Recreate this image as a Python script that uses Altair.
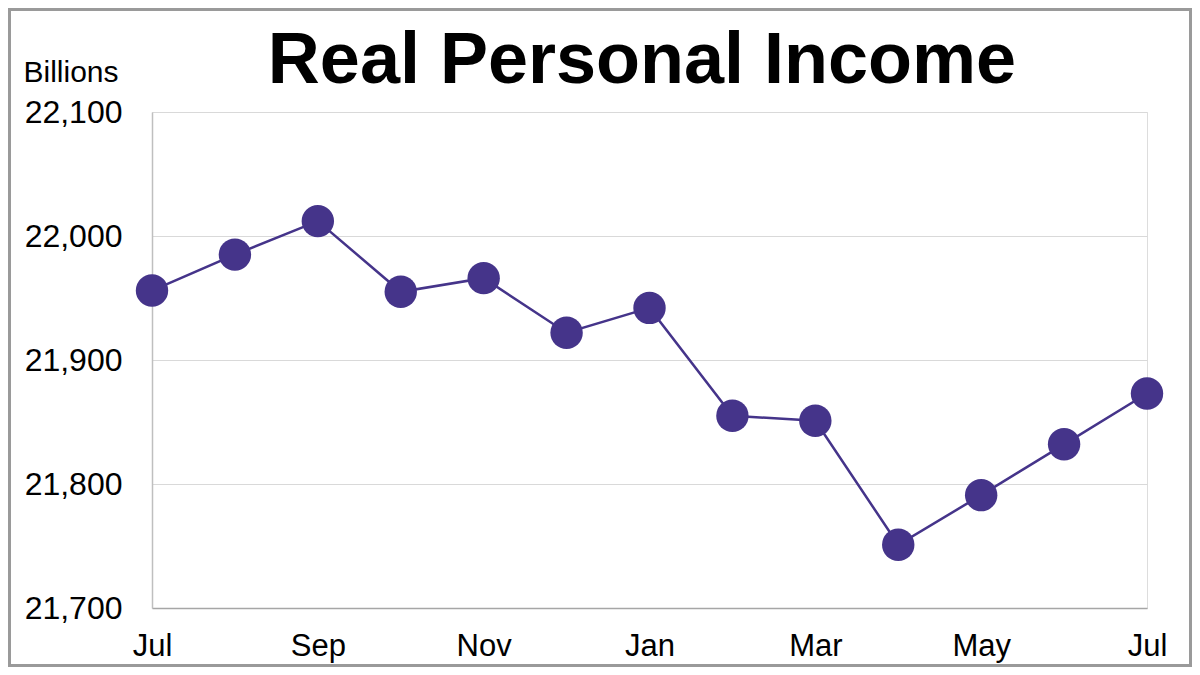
import altair as alt
import pandas as pd

months = ["Jul", "Aug", "Sep", "Oct", "Nov", "Dec", "Jan", "Feb", "Mar", "Apr", "May", "Jun", "Jul"]
income = [21956, 21985, 22012, 21955, 21966, 21922, 21942, 21855, 21851, 21751, 21791, 21832, 21873]
y_ticks = [21700, 21800, 21900, 22000, 22100]
title_text = "Real Personal Income"
unit_text = "Billions"

df = pd.DataFrame({"idx": list(range(len(months))), "month": months, "income": income})

label_expr = "[" + ",".join(f"'{m}'" for m in months) + "][datum.value]"
PURPLE = "#45348A"
FONT = "Liberation Sans"

W, H = 995, 496
PL, PT, PR, PB = 144, 104, 45, 59

x = alt.X("idx:Q",
          scale=alt.Scale(domain=[0, len(months) - 1], nice=False, zero=False),
          axis=alt.Axis(values=list(range(0, len(months), 2)), labelExpr=label_expr,
                        title=None, grid=False, ticks=False, labelFlush=False,
                        labelFontSize=31, labelFont=FONT, labelColor="black",
                        labelPadding=23, domainColor="#a6a6a6", domainWidth=1.5))
y = alt.Y("income:Q",
          scale=alt.Scale(domain=[y_ticks[0], y_ticks[-1]], nice=False, zero=False),
          axis=alt.Axis(values=y_ticks, format=",.0f",
                        title=unit_text, titleAngle=0, titleAlign="left",
                        titleBaseline="alphabetic", titleX=-129, titleY=-31,
                        titleFontSize=30, titleFontWeight="normal", titleFont=FONT,
                        titleColor="black",
                        grid=True, gridColor="#d9d9d9", gridWidth=1,
                        ticks=False, labelFontSize=32, labelFont=FONT,
                        labelColor="black", labelPadding=30,
                        domainColor="#bfbfbf", domainWidth=1.5))

line = alt.Chart(df).mark_line(color=PURPLE, strokeWidth=2.5).encode(x=x, y=y)
pts = alt.Chart(df).mark_circle(color=PURPLE, size=1050, opacity=1).encode(x=x, y=y)

title = alt.Chart(pd.DataFrame({"t": [title_text]})).mark_text(
    font=FONT, fontSize=72, fontWeight="bold", color="black",
    align="center", baseline="alphabetic", clip=False
).encode(text="t:N", x=alt.value(490), y=alt.value(-29))

border = alt.Chart(pd.DataFrame({"a": [0]})).mark_rect(
    fill=None, stroke="#9a9a9a", strokeWidth=3, clip=False
).encode(
    x=alt.value(-PL + 1.5), x2=alt.value(W + PR - 1.5),
    y=alt.value(-PT + 1.5), y2=alt.value(H + PB - 1.5)
)

chart = alt.layer(line, pts, title, border).properties(
    width=W, height=H,
    autosize=alt.AutoSizeParams(type="none"),
    padding={"left": PL, "top": PT, "right": PR, "bottom": PB},
).configure_view(stroke=None).configure(background="white")

chart.save("out.html", embed_options={"renderer": "svg", "actions": False})
